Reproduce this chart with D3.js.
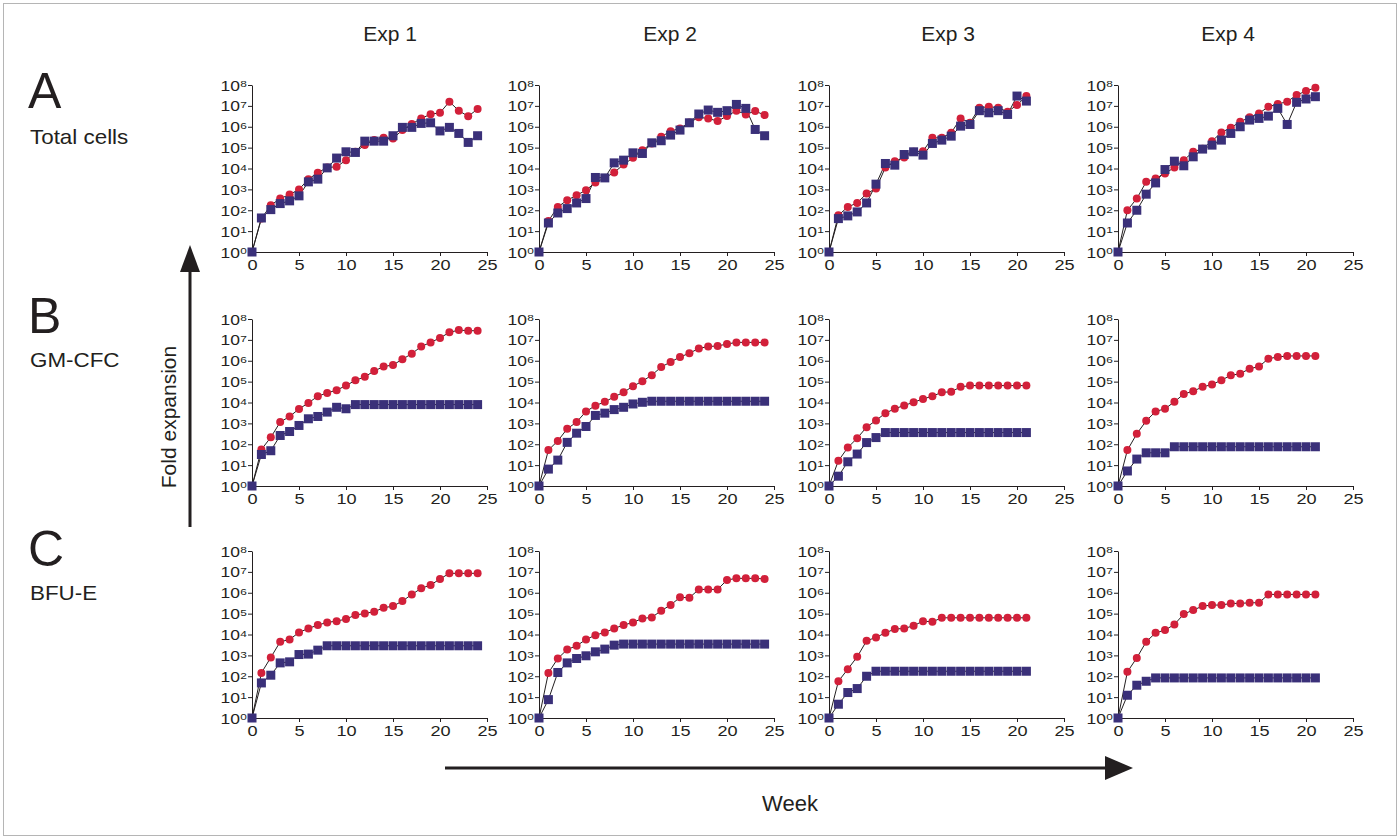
<!DOCTYPE html>
<html>
<head>
<meta charset="utf-8">
<script src="https://cdn.jsdelivr.net/npm/d3@7"></script>
<style>
  body { margin: 0; background: #fff; }
  svg text { font-family: "Liberation Sans", Arial, sans-serif; fill: #231f20; }
</style>
</head>
<body>
<svg id="chart" width="1400" height="839"></svg>
<script>
// weeks in culture
var weeksLong = [0,1,2,3,4,5,6,7,8,9,10,11,12,13,14,15,16,17,18,19,20,21,22,23,24];
var weeksShort = [0,1,2,3,4,5,6,7,8,9,10,11,12,13,14,15,16,17,18,19,20,21];

var expNames = ["Exp 1", "Exp 2", "Exp 3", "Exp 4"];
var rowLetters = ["A", "B", "C"];
var rowNames = ["Total cells", "GM-CFC", "BFU-E"];
var xTicks = [0, 5, 10, 15, 20, 25];
var yTicks = [0, 1, 2, 3, 4, 5, 6, 7, 8]; // powers of ten

// fold expansion, log10 values (red = circles, blue = squares)
var totalRed1 = [0,1.6,2.24,2.56,2.75,3.0,3.49,3.8,4.05,4.08,4.4,4.8,5.12,5.36,5.47,5.44,5.84,6.13,6.4,6.6,6.67,7.2,6.77,6.5,6.85];
var totalBlue1 = [0,1.63,2.03,2.32,2.45,2.69,3.36,3.49,4.03,4.5,4.8,4.77,5.31,5.31,5.31,5.57,5.97,5.97,6.16,6.19,5.8,5.97,5.68,5.25,5.57];
var totalRed2 = [0,1.49,2.16,2.48,2.72,2.96,3.33,3.55,3.81,4.19,4.51,4.88,5.2,5.52,5.79,5.92,6.2,6.45,6.4,6.27,6.51,6.77,6.59,6.75,6.56];
var totalBlue2 = [0,1.39,1.87,2.08,2.35,2.56,3.57,3.55,4.27,4.4,4.75,4.72,5.23,5.33,5.6,5.84,6.19,6.61,6.8,6.69,6.77,7.07,6.88,5.87,5.57];
var totalRed3 = [0,1.76,2.16,2.35,2.8,3.04,4.05,4.35,4.53,4.8,4.83,5.47,5.47,5.71,6.4,6.19,6.91,6.96,6.91,6.72,7.04,7.47];
var totalBlue3 = [0,1.6,1.73,1.92,2.35,3.25,4.24,4.16,4.67,4.8,4.64,5.2,5.36,5.55,6.03,6.11,6.77,6.67,6.77,6.59,7.47,7.23];
var totalRed4 = [0,2.0,2.56,3.36,3.52,3.76,4.05,4.4,4.8,4.95,5.31,5.73,5.95,6.24,6.45,6.64,6.96,7.09,7.2,7.52,7.71,7.87];
var totalBlue4 = [0,1.39,2.0,2.77,3.31,3.95,4.35,4.13,4.56,4.93,5.12,5.36,5.68,6.0,6.32,6.4,6.51,6.88,6.11,7.17,7.33,7.44];

var gmRed1 = [0,1.75,2.33,3.06,3.33,3.69,3.98,4.3,4.46,4.59,4.81,5.06,5.23,5.51,5.72,5.8,6.07,6.34,6.68,6.88,7.09,7.36,7.47,7.44,7.44];
var gmBlue1 = [0,1.51,1.69,2.42,2.61,2.9,3.22,3.33,3.54,3.77,3.7,3.9,3.9,3.9,3.9,3.9,3.9,3.9,3.9,3.9,3.9,3.9,3.9,3.9,3.9];
var gmRed2 = [0,1.72,2.16,2.74,3.06,3.57,3.85,4.03,4.27,4.49,4.78,5.02,5.31,5.7,5.94,6.18,6.36,6.59,6.68,6.71,6.8,6.88,6.88,6.88,6.88];
var gmBlue2 = [0,0.81,1.24,2.09,2.53,2.85,3.38,3.49,3.66,3.77,3.93,4.01,4.06,4.06,4.06,4.06,4.06,4.06,4.06,4.06,4.06,4.06,4.06,4.06,4.06];
var gmRed3 = [0,1.21,1.84,2.29,2.82,3.14,3.49,3.7,3.86,4.01,4.17,4.3,4.49,4.51,4.75,4.81,4.81,4.81,4.81,4.81,4.81,4.81];
var gmBlue3 = [0,0.47,1.16,1.53,2.08,2.32,2.56,2.56,2.56,2.56,2.56,2.56,2.56,2.56,2.56,2.56,2.56,2.56,2.56,2.56,2.56,2.56];
var gmRed4 = [0,1.72,2.5,3.12,3.57,3.7,4.03,4.41,4.54,4.75,4.86,5.07,5.3,5.38,5.62,5.72,6.1,6.18,6.23,6.23,6.23,6.23];
var gmBlue4 = [0,0.72,1.29,1.59,1.59,1.59,1.88,1.88,1.88,1.88,1.88,1.88,1.88,1.88,1.88,1.88,1.88,1.88,1.88,1.88,1.88,1.88];

var bfuRed1 = [0,2.16,2.9,3.65,3.76,4.1,4.29,4.45,4.58,4.64,4.74,4.93,5.01,5.09,5.28,5.36,5.6,5.92,6.21,6.37,6.66,6.93,6.93,6.93,6.93];
var bfuBlue1 = [0,1.68,2.05,2.64,2.69,3.04,3.06,3.25,3.46,3.46,3.46,3.46,3.46,3.46,3.46,3.46,3.46,3.46,3.46,3.46,3.46,3.46,3.46,3.46,3.46];
var bfuRed2 = [0,2.16,2.85,3.28,3.46,3.76,3.97,4.1,4.29,4.45,4.58,4.77,4.82,5.14,5.41,5.78,5.76,6.16,6.16,6.16,6.61,6.69,6.69,6.69,6.66];
var bfuBlue2 = [0,0.88,2.18,2.64,2.85,2.98,3.17,3.3,3.49,3.54,3.54,3.54,3.54,3.54,3.54,3.54,3.54,3.54,3.54,3.54,3.54,3.54,3.54,3.54,3.54];
var bfuRed3 = [0,1.76,2.34,2.93,3.7,3.86,4.08,4.26,4.29,4.42,4.64,4.61,4.8,4.8,4.8,4.8,4.8,4.8,4.8,4.8,4.8,4.8];
var bfuBlue3 = [0,0.66,1.22,1.41,2.0,2.24,2.24,2.24,2.24,2.24,2.24,2.24,2.24,2.24,2.24,2.24,2.24,2.24,2.24,2.24,2.24,2.24];
var bfuRed4 = [0,2.21,2.88,3.65,4.08,4.21,4.48,4.98,5.17,5.36,5.41,5.41,5.49,5.49,5.52,5.52,5.92,5.92,5.92,5.92,5.92,5.92];
var bfuBlue4 = [0,1.09,1.57,1.76,1.92,1.92,1.92,1.92,1.92,1.92,1.92,1.92,1.92,1.92,1.92,1.92,1.92,1.92,1.92,1.92,1.92,1.92];

var panels = [
    [[weeksLong, totalRed1, totalBlue1], [weeksLong, totalRed2, totalBlue2], [weeksShort, totalRed3, totalBlue3], [weeksShort, totalRed4, totalBlue4]],
    [[weeksLong, gmRed1, gmBlue1], [weeksLong, gmRed2, gmBlue2], [weeksShort, gmRed3, gmBlue3], [weeksShort, gmRed4, gmBlue4]],
    [[weeksLong, bfuRed1, bfuBlue1], [weeksLong, bfuRed2, bfuBlue2], [weeksShort, bfuRed3, bfuBlue3], [weeksShort, bfuRed4, bfuBlue4]]
];

var red = "#d2203a", blue = "#3a3079", ink = "#231f20";
var colLeft = [252, 539, 829, 1118];
var rowBottom = [252, 486, 718];
var pw = 235, ph = 167;
var stretch = 1.25; // tick text in the figure is wide

var svg = d3.select('#chart');

// frame
svg.append('rect').attr('x', 3.5).attr('y', 3.5).attr('width', 1393).attr('height', 832)
    .attr('fill', 'none').attr('stroke', '#b5b5b5').attr('stroke-width', 1);

var titleX = [390, 670, 948, 1228];
svg.selectAll('.exptitle').data(expNames).enter().append('text')
    .attr('class', 'exptitle')
    .attr('x', function(d, i){ return titleX[i]; })
    .attr('y', 41)
    .attr('text-anchor', 'middle')
    .style('font-size', '21px')
    .text(function(d){ return d; });

var letterY = [108, 333, 566];
var nameY = [144, 367, 600];
for (var ri=0; ri<3; ri++){
    svg.append('text').attr('x', 28).attr('y', letterY[ri])
        .style('font-size', '50px').text(rowLetters[ri]);
    svg.append('text').attr('transform', 'translate(30,' + nameY[ri] + ') scale(1.12,1)')
        .style('font-size', '20px').text(rowNames[ri]);
}

var line = d3.line();

for (var r=0; r<3; r++){
    for (var c=0; c<4; c++){
        var x = d3.scaleLinear().domain([0, 25]).range([colLeft[c], colLeft[c]+pw]);
        var y = d3.scaleLog().domain([1, 1e8]).range([rowBottom[r], rowBottom[r]-ph]);
        var g = svg.append('g');

        // x axis
        var xa = g.append('g').attr('transform', 'translate(0,' + rowBottom[r] + ')')
            .call(d3.axisBottom(x).tickValues(xTicks).tickSize(4).tickSizeOuter(0).tickPadding(4));
        xa.selectAll('text').style('font-size', '14.5px').attr('fill', ink)
            .attr('transform', 'scale(' + stretch + ',1)')
            .style('font-family', '"Liberation Sans", Arial, sans-serif');

        // y axis with superscript labels
        var ya = g.append('g').attr('transform', 'translate(' + colLeft[c] + ',0)')
            .call(d3.axisLeft(y).tickValues(yTicks.map(function(p){ return Math.pow(10, p); }))
                .tickSize(4).tickSizeOuter(0).tickFormat(''));
        ya.selectAll('.tick').each(function(d){
            var lg = d3.select(this).append('g')
                .attr('transform', 'translate(-5,0) scale(' + stretch + ',1)');
            lg.append('text')
                .attr('x', -5.6).attr('y', 5)
                .attr('text-anchor', 'end')
                .style('font-size', '14px')
                .attr('fill', ink)
                .style('font-family', '"Liberation Sans", Arial, sans-serif')
                .text('10');
            lg.append('text')
                .attr('x', -5.4).attr('y', 1.8)
                .attr('text-anchor', 'start')
                .style('font-size', '9.5px')
                .attr('fill', ink)
                .style('font-family', '"Liberation Sans", Arial, sans-serif')
                .text(Math.round(Math.log10(d)));
        });
        g.selectAll('.domain').attr('stroke', ink);
        g.selectAll('.tick line').attr('stroke', ink);

        var weeks = panels[r][c][0];
        var seriesRed = weeks.map(function(w, i){ return [x(w), y(Math.pow(10, panels[r][c][1][i]))]; });
        var seriesBlue = weeks.map(function(w, i){ return [x(w), y(Math.pow(10, panels[r][c][2][i]))]; });

        g.append('path').attr('d', line(seriesRed)).attr('fill', 'none').attr('stroke', ink).attr('stroke-width', 1);
        g.append('path').attr('d', line(seriesBlue)).attr('fill', 'none').attr('stroke', ink).attr('stroke-width', 1);

        g.selectAll('.dot').data(seriesRed).enter().append('circle')
            .attr('cx', function(d){ return d[0]; })
            .attr('cy', function(d){ return d[1]; })
            .attr('r', 4)
            .attr('fill', red);
        g.selectAll('.sq').data(seriesBlue).enter().append('rect')
            .attr('x', function(d){ return d[0]-4.5; })
            .attr('y', function(d){ return d[1]-4.5; })
            .attr('width', 9).attr('height', 9)
            .attr('fill', blue);
    }
}

// fold expansion arrow
svg.append('line').attr('x1', 190).attr('y1', 527).attr('x2', 190).attr('y2', 268)
    .attr('stroke', ink).attr('stroke-width', 3);
svg.append('path').attr('d', 'M190,245 L180,272 L200,272 Z').attr('fill', ink);
svg.append('text').attr('transform', 'translate(176,417) rotate(-90)')
    .attr('text-anchor', 'middle').style('font-size', '21px').text('Fold expansion');

// week arrow
svg.append('line').attr('x1', 445).attr('y1', 768).attr('x2', 1110).attr('y2', 768)
    .attr('stroke', ink).attr('stroke-width', 3);
svg.append('path').attr('d', 'M1133,768 L1105,756 L1105,780 Z').attr('fill', ink);
svg.append('text').attr('x', 790).attr('y', 811).attr('text-anchor', 'middle')
    .style('font-size', '22px').text('Week');
</script>
</body>
</html>
